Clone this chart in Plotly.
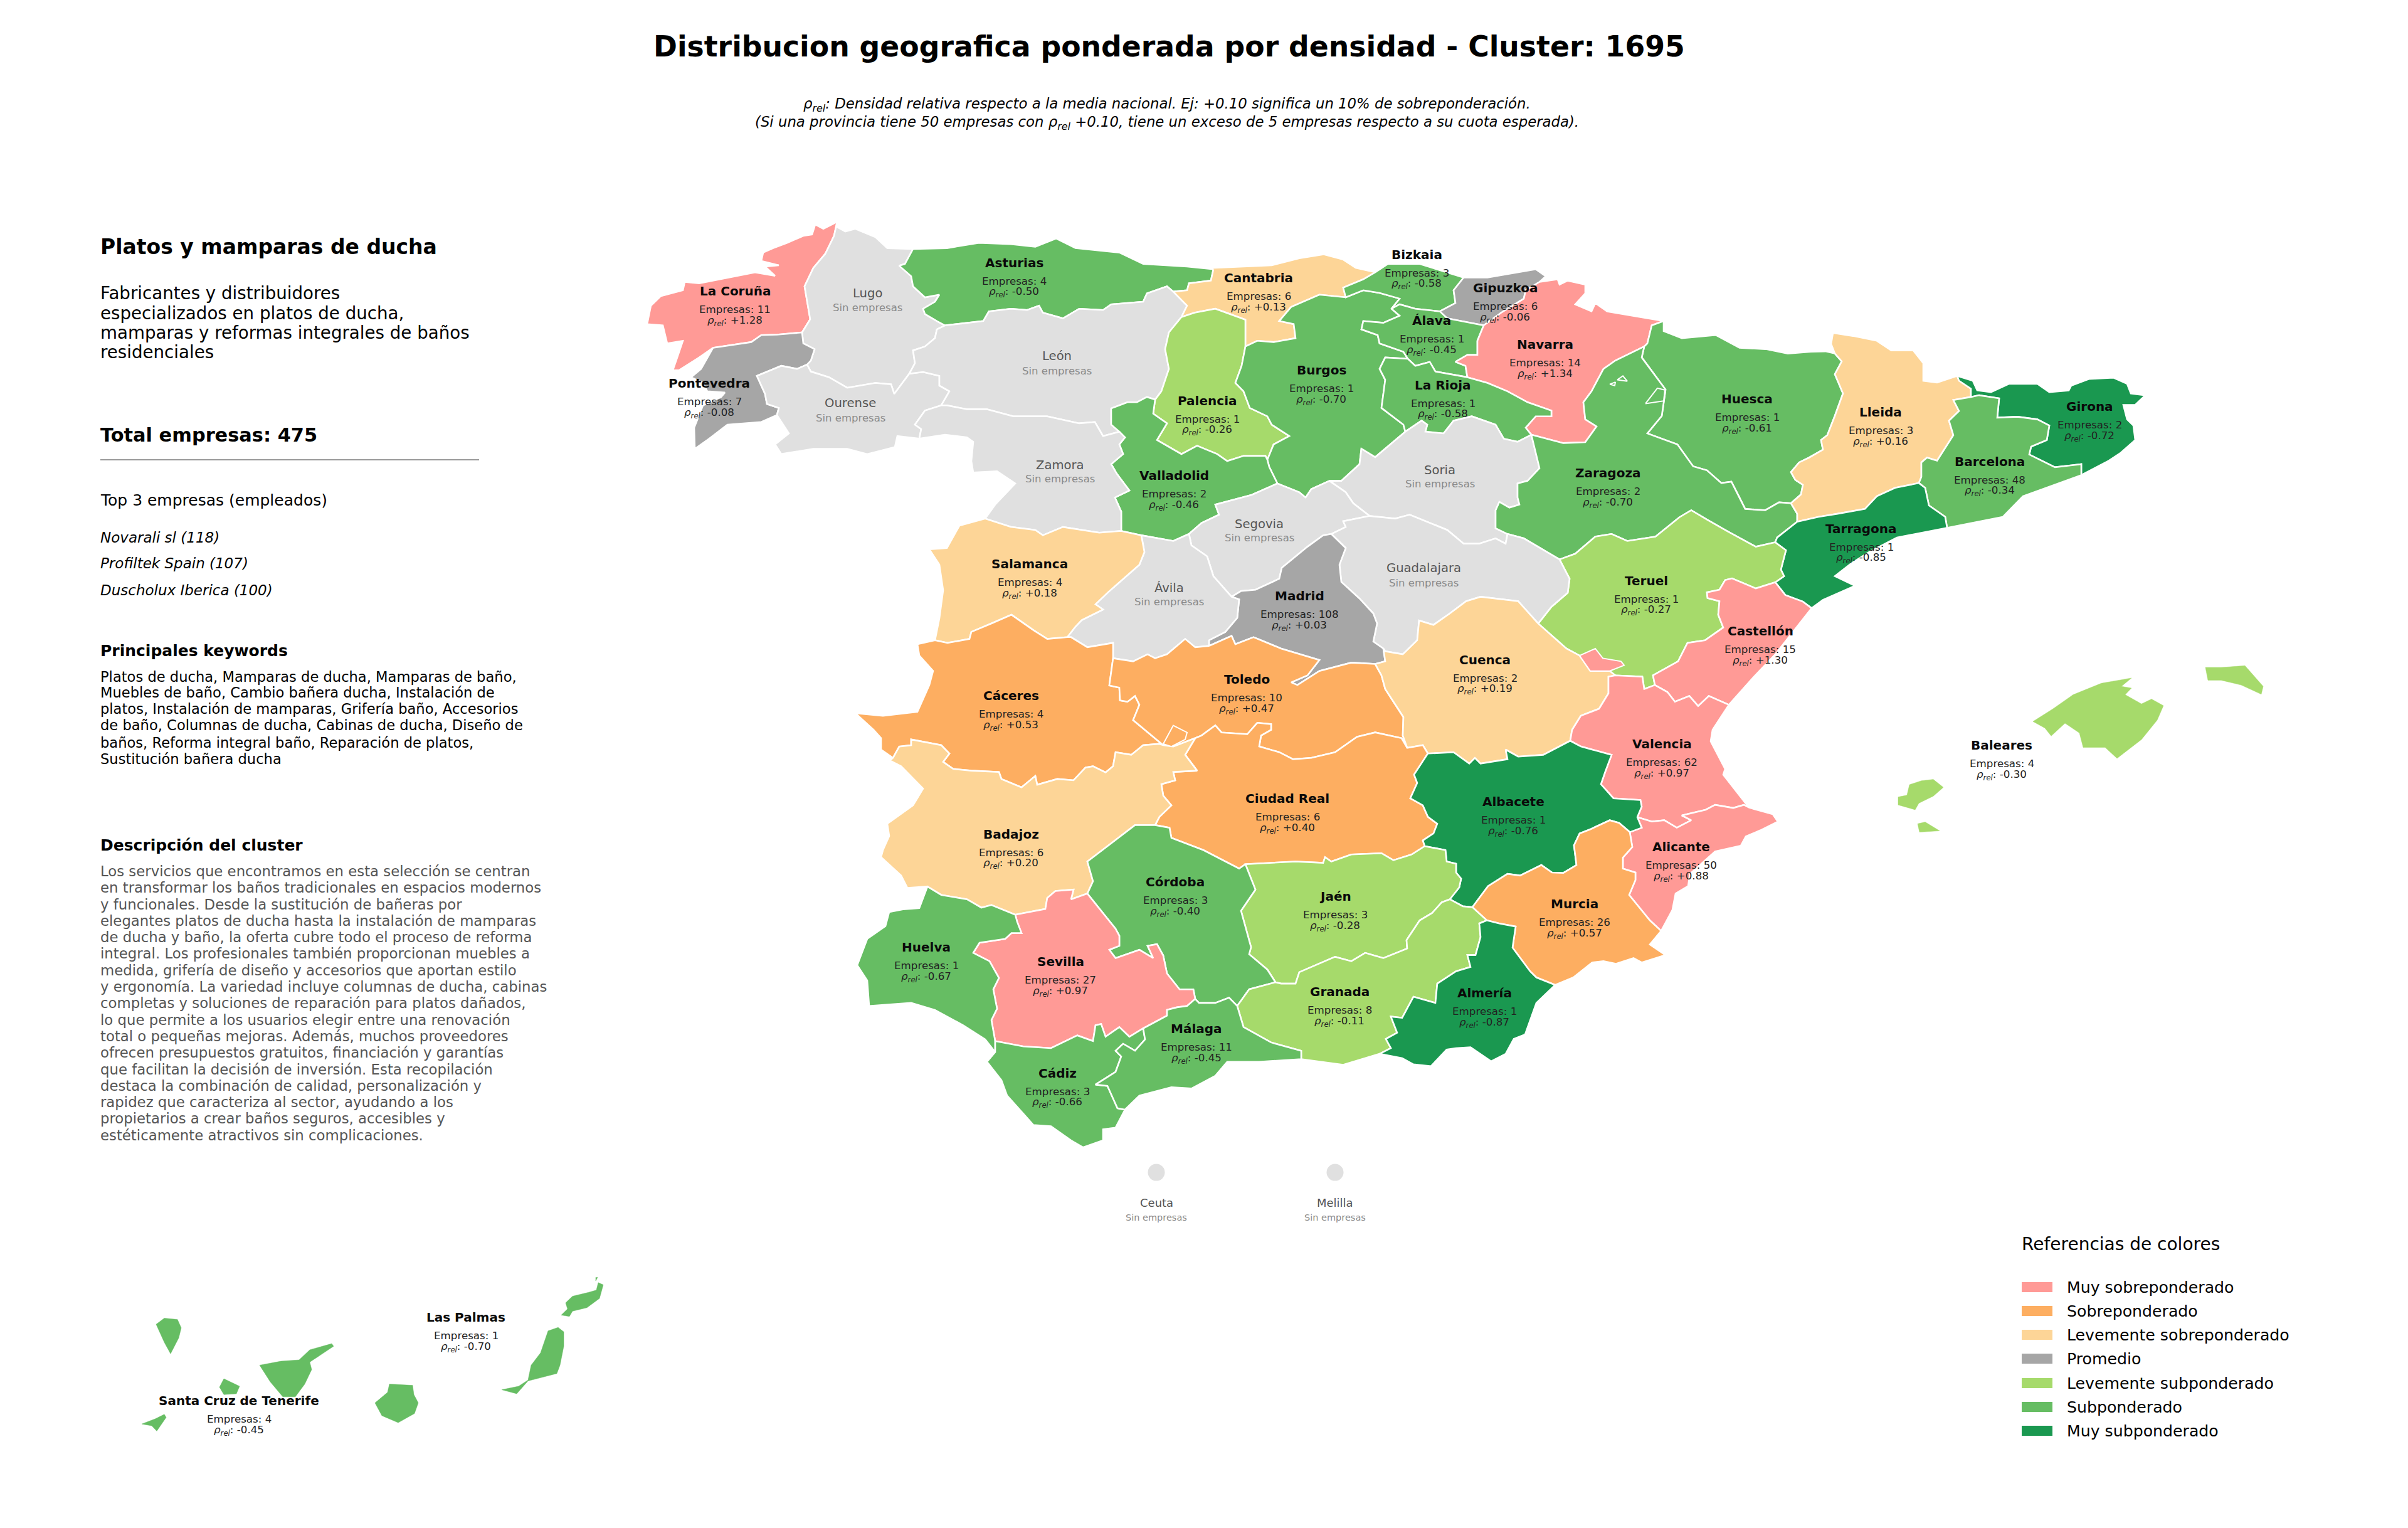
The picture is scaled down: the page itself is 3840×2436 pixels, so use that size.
import plotly.graph_objects as go

W, H = 3840, 2436
FONT = "DejaVu Sans"

CATEGORIES = ["Muy sobreponderado", "Sobreponderado", "Levemente sobreponderado", "Promedio",
              "Levemente subponderado", "Subponderado", "Muy subponderado"]
CAT_COLORS = ["#FF9A96", "#FDAE61", "#FDD597", "#A6A6A6", "#A6DA6B", "#66BD63", "#1A9850"]
NO_DATA = "#E0E0E0"
# 0..6 index CATEGORIES
MS, SO, LS, PR, LU, SU, MU = range(7)

# Border arcs of the provinces, shared between neighbours (map units)
ARCS = {
"cor_coast": [(1335,368),(1313,384),(1300,374),(1295,397),(1281,400),(1255,416),(1233,428),(1217,438),(1214,457),(1242,467),(1220,470),(1236,491),(1204,483),(1160,495),(1115,508),(1092,505),(1089,524),(1054,537),(1038,559),(1032,601),(1057,604),(1064,645),(1089,639),(1080,677),(1073,706),(1083,706),(1115,677),(1137,655)],
"cor_pon": [(1137,655),(1163,649),(1198,642),(1214,626),(1239,625),(1279,620)],
"cor_lug": [(1279,620),(1292,590),(1283,515),(1297,473),(1316,441),(1330,400),(1335,368)],
"lug_coast": [(1335,368),(1335,380),(1348,390),(1364,384),(1396,403),(1415,428),(1456,430)],
"lug_ast": [(1456,430),(1443,464),(1434,468),(1453,492),(1456,515),(1475,540),(1498,534),(1491,550),(1472,566),(1475,578),(1494,594),(1507,604)],
"lug_leo": [(1507,604),(1494,613),(1491,633),(1475,652),(1456,661),(1459,690),(1450,714)],
"lug_our": [(1450,714),(1426,760),(1421,738),(1396,735),(1351,746),(1322,722),(1293,709),(1287,693)],
"lug_pon": [(1287,693),(1293,684),(1299,658),(1281,645),(1279,620)],
"pon_our": [(1287,693),(1271,703),(1246,696),(1207,719),(1220,760),(1223,783),(1242,792),(1239,808)],
"pon_coast": [(1239,808),(1214,824),(1160,830),(1131,862),(1108,885),(1107,837),(1121,786),(1150,767),(1156,757),(1128,754),(1121,735),(1102,722),(1118,703),(1137,655)],
"our_south": [(1239,808),(1258,850),(1236,875),(1246,897),(1297,885),(1351,885),(1383,897),(1427,881),(1431,856),(1466,862)],
"our_zam": [(1466,862),(1469,840),(1459,830),(1475,798),(1501,786)],
"our_leo": [(1501,786),(1514,754),(1498,741),(1498,719),(1472,710),(1450,714)],
"ast_coast": [(1456,430),(1510,428),(1561,416),(1612,419),(1651,425),(1684,406),(1715,428),(1785,438),(1823,464),(1893,470),(1935,476)],
"ast_can": [(1935,476),(1931,502),(1896,508),(1893,524),(1871,527)],
"ast_leo": [(1871,527),(1861,515),(1829,531),(1823,550),(1772,556),(1759,569),(1721,566),(1695,588),(1663,575),(1657,559),(1638,569),(1612,566),(1577,572),(1568,594),(1507,604)],
"can_leo": [(1871,527),(1893,559),(1884,585)],
"leo_pal": [(1884,585),(1864,620),(1858,658),(1864,703),(1852,754),(1842,773)],
"leo_vld": [(1842,773),(1829,767),(1813,779),(1798,779),(1772,793),(1772,830),(1785,846)],
"leo_zam": [(1501,786),(1510,786),(1542,795),(1574,795),(1616,811),(1670,811),(1721,827),(1746,824),(1759,856),(1785,846)],
"zam_vld": [(1785,846),(1794,859),(1785,875),(1791,897),(1772,920),(1781,942),(1801,980),(1778,996),(1788,1028),(1788,1072)],
"zam_sal": [(1788,1072),(1753,1076),(1695,1063),(1663,1082),(1651,1070),(1612,1063),(1571,1044)],
"zam_west": [(1571,1044),(1587,1012),(1619,964),(1590,936),(1552,939),(1549,913),(1552,869),(1542,859),(1507,853),(1466,862)],
"vld_sal": [(1788,1072),(1820,1082)],
"vld_avi": [(1820,1082),(1871,1095),(1896,1079)],
"vld_seg": [(1896,1079),(1916,1054),(1944,1035),(1938,1012),(1996,990),(2037,964)],
"pal_vld": [(1842,773),(1839,805),(1861,827),(1845,865),(1884,897),(1909,878),(1941,897),(1957,913),(1983,901),(2018,901),(2021,910)],
"vld_bur": [(2021,910),(2024,926),(2037,964)],
"can_pal": [(1884,585),(1905,575),(1938,566),(1986,591),(1986,652)],
"pal_bur": [(1986,652),(1980,696),(1970,735),(1983,754),(1993,792),(2021,811),(2028,830),(2056,856),(2031,875),(2021,910)],
"can_bur": [(1986,652),(2005,639),(2031,642),(2066,633),(2063,601),(2040,594),(2059,562),(2104,534),(2146,540)],
"can_coast": [(1935,476),(1932,473),(2028,467),(2072,451),(2111,442),(2142,454),(2162,473),(2193,483)],
"can_biz": [(2193,483),(2174,499),(2142,518),(2146,540)],
"biz_coast": [(2193,483),(2213,464),(2264,464),(2334,495)],
"biz_gip": [(2334,495),(2318,524),(2321,553),(2296,572)],
"biz_bur": [(2146,540),(2174,524),(2200,530),(2232,543),(2219,566)],
"biz_ala": [(2219,566),(2232,556),(2257,566),(2296,572)],
"gip_ala": [(2296,572),(2308,588),(2366,604)],
"gip_coast": [(2334,495),(2372,495),(2449,476),(2465,492),(2455,505)],
"gip_nav": [(2455,505),(2433,524),(2430,543),(2394,575),(2366,604)],
"ala_nav": [(2366,604),(2356,639),(2356,671),(2340,671),(2321,687),(2337,696),(2340,722)],
"ala_rio": [(2340,722),(2289,709),(2280,687),(2257,696),(2245,680)],
"ala_bur": [(2245,680),(2238,664),(2200,645),(2197,626),(2171,613),(2174,594),(2206,598),(2232,582),(2219,566)],
"bur_rio": [(2245,680),(2209,677),(2200,703),(2209,728),(2203,792),(2238,830),(2241,846)],
"rio_sor": [(2241,846),(2267,821),(2276,830),(2273,846),(2302,850),(2318,821),(2347,811),(2385,830),(2398,862),(2420,869),(2442,853)],
"bur_sor": [(2241,846),(2193,904),(2171,885),(2168,920),(2139,958),(2120,958)],
"bur_seg": [(2120,958),(2091,977),(2082,996),(2072,984),(2037,964)],
"nav_fr": [(2455,505),(2484,499),(2487,511),(2500,502),(2528,511),(2528,531),(2512,556),(2538,572),(2544,553),(2563,572),(2653,594)],
"nav_hue": [(2653,594),(2634,604),(2627,645),(2622,652)],
"nav_zar": [(2622,652),(2576,684),(2557,703),(2538,754),(2525,779),(2528,818),(2546,834),(2528,870),(2493,872),(2442,853)],
"nav_rio": [(2442,853),(2433,837),(2449,811),(2474,811),(2474,798),(2436,779),(2404,754),(2372,735),(2340,722)],
"sor_zar": [(2442,853),(2449,894),(2455,929),(2436,958),(2420,964),(2420,996),(2423,1012),(2407,1019),(2391,1006),(2385,1025),(2385,1066),(2404,1079)],
"sor_gua": [(2404,1079),(2401,1101),(2385,1089),(2359,1101),(2334,1101),(2308,1070),(2248,1035),(2225,1044),(2184,1038)],
"sor_seg": [(2184,1038),(2158,1009),(2146,984),(2120,958)],
"seg_gua": [(2184,1038),(2142,1050),(2146,1063),(2123,1079)],
"seg_mad": [(2123,1079),(2110,1082),(2085,1108),(2044,1156),(2040,1181),(2002,1206),(1979,1209),(1964,1222)],
"seg_avi": [(1896,1079),(1900,1105),(1925,1130),(1935,1175),(1964,1222)],
"mad_gua": [(2123,1079),(2146,1111),(2136,1149),(2139,1188),(2168,1226),(2190,1260),(2196,1283),(2190,1324),(2206,1340)],
"gua_zar": [(2404,1079),(2430,1089),(2487,1137)],
"gua_ter": [(2487,1137),(2503,1181),(2500,1213),(2474,1245),(2453,1283)],
"gua_cue": [(2453,1283),(2421,1232),(2361,1222),(2338,1232),(2312,1260),(2286,1286),(2263,1276),(2260,1321),(2237,1353),(2209,1346),(2206,1340)],
"mad_cue": [(2206,1340),(2209,1369),(2193,1375)],
"mad_tol": [(1928,1334),(1964,1311),(1970,1330),(1999,1314),(2043,1340),(2104,1366),(2085,1401),(2059,1417),(2069,1423),(2104,1391),(2155,1372),(2193,1375)],
"avi_mad": [(1964,1222),(1976,1228),(1973,1270),(1954,1302),(1928,1321),(1928,1334)],
"avi_tol": [(1928,1334),(1906,1337),(1890,1318),(1861,1353),(1842,1362),(1830,1353),(1807,1369),(1775,1362)],
"avi_cac": [(1775,1362),(1775,1327),(1734,1337),(1708,1314),(1702,1314)],
"avi_sal": [(1820,1082),(1825,1120),(1817,1149),(1790,1183),(1766,1213),(1747,1239),(1759,1251),(1725,1275),(1715,1290),(1702,1314)],
"sal_cac": [(1702,1314),(1670,1318),(1648,1298),(1613,1263),(1581,1283),(1549,1302),(1546,1318),(1511,1327),(1491,1321)],
"sal_west": [(1571,1044),(1530,1060),(1510,1111),(1482,1114),(1498,1149),(1504,1207),(1498,1271),(1491,1321)],
"cac_west": [(1491,1321),(1463,1330),(1466,1356),(1488,1391),(1482,1423),(1463,1484),(1408,1493),(1364,1487),(1393,1525),(1405,1544),(1405,1570),(1424,1589)],
"cac_bad": [(1424,1589),(1434,1563),(1453,1560),(1453,1547),(1501,1560),(1514,1579),(1504,1598),(1520,1614),(1549,1618),(1593,1621),(1597,1637),(1629,1656),(1651,1630),(1654,1650),(1686,1637),(1712,1640),(1731,1611),(1743,1608),(1763,1622),(1775,1608),(1779,1576),(1804,1582),(1823,1560),(1849,1557),(1855,1560)],
"cac_tol": [(1855,1560),(1807,1503),(1817,1468),(1810,1448),(1798,1461),(1786,1458),(1785,1429),(1769,1424),(1775,1362)],
"tol_bad": [(1855,1560),(1871,1563),(1906,1544)],
"tol_cr": [(1906,1544),(1916,1538),(1938,1515),(1948,1531),(1989,1535),(2005,1509),(2027,1512),(2027,1525),(2011,1538),(2008,1563),(2040,1576),(2062,1592),(2091,1589),(2129,1576),(2164,1541),(2193,1531),(2235,1544),(2244,1566)],
"tol_cue": [(2193,1375),(2203,1401),(2209,1432),(2238,1496),(2237,1538),(2244,1566)],
"cue_cr": [(2244,1566),(2269,1560),(2277,1579)],
"cue_alb": [(2277,1579),(2318,1576),(2343,1602),(2352,1589),(2361,1602),(2404,1592),(2401,1570),(2421,1586),(2461,1582),(2504,1550)],
"cue_vlc": [(2576,1401),(2565,1404),(2565,1442),(2550,1477),(2521,1493),(2507,1525),(2504,1550)],
"ter_cue": [(2453,1283),(2498,1340),(2519,1356),(2536,1391),(2567,1391),(2576,1401)],
"ter_vlc": [(2639,1423),(2622,1432),(2619,1404),(2576,1401)],
"cas_ter": [(2831,1189),(2800,1203),(2762,1180),(2751,1184),(2742,1206),(2722,1212),(2723,1225),(2742,1232),(2740,1263),(2748,1292),(2719,1321),(2691,1327),(2676,1369),(2636,1401),(2639,1423)],
"cas_vlc": [(2639,1423),(2659,1439),(2671,1461),(2694,1448),(2708,1471),(2725,1448),(2757,1468)],
"cas_coast": [(2889,1248),(2831,1353),(2797,1404),(2757,1468)],
"tar_cas": [(2831,1189),(2847,1218),(2875,1233),(2889,1248)],
"tar_ter": [(2831,1098),(2848,1116),(2840,1160),(2845,1175),(2831,1189)],
"tar_coast": [(3105,1065),(3025,1087),(2981,1120),(2952,1146),(2926,1175),(2958,1197),(2907,1229),(2889,1248)],
"zar_ter": [(2487,1137),(2512,1124),(2544,1085),(2570,1079),(2595,1095),(2640,1085),(2678,1041),(2697,1025),(2723,1047),(2755,1073),(2800,1108),(2831,1098)],
"zar_tar": [(2831,1098),(2834,1087),(2866,1051)],
"zar_lle": [(2866,1051),(2866,1033),(2856,1009)],
"hue_zar": [(2856,1009),(2837,1007),(2815,1025),(2783,1022),(2773,993),(2761,960),(2745,963),(2722,934),(2700,925),(2675,875),(2627,850),(2650,810),(2656,750),(2625,690),(2618,677),(2622,652)],
"hue_fr": [(2653,594),(2653,617),(2682,633),(2736,626),(2774,655),(2816,658),(2851,668),(2888,664),(2911,663),(2926,668)],
"hue_lle": [(2926,668),(2937,686),(2926,715),(2939,759),(2926,810),(2914,854),(2904,865),(2907,887),(2885,905),(2869,916),(2856,938),(2863,956),(2875,967),(2872,989),(2856,1009)],
"lle_top": [(2926,668),(2920,646),(2923,621),(2955,628),(2993,639),(3016,661),(3051,661),(3067,690),(3067,730),(3089,734),(3121,719)],
"lle_gir": [(3121,719),(3124,730),(3143,748),(3143,767)],
"lle_bar": [(3143,767),(3115,774),(3124,799),(3108,821),(3115,854),(3099,890),(3089,912),(3073,905),(3064,916),(3064,949),(3060,963)],
"lle_tar": [(3060,963),(3022,974),(2993,993),(2974,1022),(2930,1033),(2900,1040),(2866,1051)],
"bar_tar": [(3060,963),(3070,974),(3076,1014),(3102,1040),(3105,1065)],
"bar_coast": [(3105,1065),(3194,1040),(3226,993),(3319,945)],
"bar_gir": [(3319,945),(3319,920),(3277,927),(3236,898),(3239,880),(3264,865),(3268,832),(3249,818),(3217,812),(3185,814),(3188,770),(3156,763),(3143,767)],
"gir_coast": [(3121,719),(3146,730),(3153,752),(3175,756),(3204,737),(3249,737),(3268,756),(3299,752),(3303,741),(3331,726),(3370,723),(3392,737),(3398,759),(3421,763),(3405,785),(3386,785),(3392,818),(3402,832),(3405,865),(3382,894),(3363,912),(3319,945)],
"alb_cr": [(2277,1579),(2255,1627),(2260,1646),(2249,1681),(2269,1697),(2277,1723),(2292,1739),(2286,1761),(2269,1777),(2272,1790)],
"cr_jae": [(2272,1790),(2251,1809),(2222,1822),(2203,1806),(2155,1809),(2123,1825),(2113,1815),(2110,1828),(2066,1825),(1986,1831)],
"cr_cor": [(1986,1831),(1976,1841),(1919,1799),(1868,1771),(1865,1748),(1842,1742)],
"bad_cr": [(1842,1742),(1849,1723),(1868,1697),(1855,1675),(1852,1649),(1874,1640),(1871,1621),(1909,1618),(1890,1582),(1906,1544)],
"bad_cor": [(1842,1742),(1810,1742),(1769,1787),(1734,1825),(1743,1870),(1734,1898)],
"bad_sev": [(1734,1898),(1708,1911),(1712,1889),(1683,1892),(1670,1908),(1667,1933),(1619,1946)],
"bad_hlv": [(1619,1946),(1581,1924),(1565,1930),(1542,1911),(1501,1901),(1479,1882)],
"bad_west": [(1479,1882),(1447,1885),(1437,1857),(1405,1815),(1408,1799),(1418,1767),(1415,1739),(1456,1697),(1472,1659),(1437,1608),(1419,1595),(1424,1589)],
"cor_jae": [(1986,1831),(2002,1889),(1979,1937),(1995,2020),(1992,2036),(2021,2071),(2034,2100)],
"cor_gra": [(2034,2100),(1992,2116),(1973,2154)],
"cor_mal": [(1973,2154),(1960,2135),(1938,2147),(1912,2147),(1906,2138)],
"cor_sev": [(1906,2138),(1903,2116),(1881,2116),(1861,2080),(1855,2039),(1845,2013),(1830,2017),(1839,2045),(1817,2026),(1779,2045),(1769,2026),(1785,2017),(1785,1994),(1779,1978),(1759,1943),(1734,1898)],
"sev_mal": [(1906,2138),(1893,2154),(1877,2157),(1861,2163),(1861,2176),(1823,2205)],
"sev_cad": [(1823,2205),(1801,2224),(1785,2202),(1763,2224),(1756,2195),(1747,2198),(1743,2234),(1718,2221),(1676,2250),(1632,2246),(1587,2234)],
"sev_hlv": [(1587,2234),(1581,2186),(1590,2160),(1584,2116),(1593,2090),(1578,2052),(1552,2033),(1562,2010),(1603,2001),(1613,1988),(1629,1988),(1622,1962),(1619,1946)],
"hlv_coast": [(1479,1882),(1466,1931),(1440,1934),(1418,1940),(1412,1972),(1383,2001),(1367,2061),(1383,2096),(1386,2154),(1453,2147),(1491,2163),(1536,2198),(1571,2230),(1587,2259)],
"hlv_cad": [(1587,2234),(1587,2259)],
"cad_coast": [(1587,2259),(1574,2281),(1597,2323),(1606,2358),(1648,2425),(1676,2428),(1708,2460),(1727,2476),(1759,2460),(1759,2435),(1779,2431),(1794,2390)],
"cad_mal": [(1794,2390),(1782,2387),(1766,2336),(1747,2333),(1779,2304),(1788,2269),(1779,2256),(1791,2240),(1810,2256),(1826,2230),(1823,2205)],
"mal_coast": [(1794,2390),(1817,2358),(1868,2339),(1900,2342),(1938,2313),(1957,2281),(2008,2281),(2075,2275)],
"mal_gra": [(2075,2275),(2075,2256),(2027,2237),(1983,2202),(1973,2154)],
"gra_coast": [(2075,2275),(2142,2288),(2200,2263)],
"gra_jae": [(2034,2100),(2043,2103),(2066,2103),(2072,2077),(2129,2042),(2155,2052),(2177,2033),(2206,2045),(2244,2023),(2243,2004),(2264,1959),(2284,1942),(2299,1918),(2312,1911)],
"alb_jae": [(2272,1790),(2305,1799),(2307,1825),(2322,1830),(2322,1850),(2330,1864),(2327,1884),(2312,1911)],
"alb_gra": [(2312,1911),(2333,1927),(2348,1929)],
"gra_mur": [(2348,1929),(2371,1959)],
"gra_alm": [(2371,1959),(2359,1966),(2361,1997),(2353,2038),(2340,2038),(2345,2065),(2322,2075),(2292,2103),(2289,2147),(2254,2133),(2236,2181),(2218,2178),(2228,2215),(2210,2229),(2218,2250),(2200,2263)],
"alm_coast": [(2200,2263),(2236,2273),(2254,2287),(2282,2291),(2307,2253),(2322,2250),(2345,2248),(2378,2280),(2401,2263),(2414,2229),(2432,2219),(2450,2147),(2480,2106)],
"alm_mur": [(2480,2106),(2450,2089),(2440,2075),(2412,2021),(2417,1973),(2391,1966),(2371,1959)],
"mur_coast": [(2480,2106),(2509,2089),(2539,2055),(2557,2052),(2577,2058),(2605,2045),(2618,2055),(2656,2038),(2631,2014),(2649,1983)],
"mur_ali": [(2649,1983),(2631,1959),(2598,1901),(2608,1867),(2608,1850),(2588,1841),(2588,1816),(2603,1792),(2599,1758)],
"alb_mur": [(2599,1758),(2582,1737),(2567,1731),(2537,1751),(2519,1761),(2510,1788),(2514,1833),(2493,1851),(2475,1850),(2458,1833),(2424,1857),(2404,1853),(2373,1881),(2348,1929)],
"alb_ali": [(2599,1758),(2618,1748),(2611,1724)],
"alb_vlc": [(2611,1724),(2618,1700),(2616,1685),(2573,1681),(2553,1649),(2560,1620),(2570,1582),(2521,1563),(2504,1550)],
"vlc_ali": [(2611,1724),(2634,1734),(2654,1731),(2674,1748),(2697,1731),(2682,1720),(2720,1707),(2735,1696),(2764,1703),(2781,1696),(2789,1702)],
"vlc_coast": [(2757,1468),(2731,1525),(2728,1551),(2751,1614),(2748,1627),(2789,1702)],
"ali_coast": [(2789,1702),(2827,1717),(2835,1734),(2807,1754),(2784,1768),(2776,1789),(2735,1802),(2695,1853),(2692,1881),(2672,1898),(2667,1935),(2649,1983)],
}

# Detached land (islands, exclaves), same map units
ADEMUZ = [(2519,1356),(2544,1340),(2556,1362),(2585,1369),(2590,1378),(2567,1391),(2536,1391)]
ZAR_ENCLAVE_A = [(2579,728),(2588,719),(2595,731)]
ZAR_ENCLAVE_B = [(2567,738),(2576,733),(2575,741)]
HUE_ENCLAVE = [(2624,782),(2643,747),(2655,751),(2653,776)]
TOL_ENCLAVE = [(1855,1557),(1871,1515),(1893,1531),(1890,1547),(1868,1563)]
MALLORCA = [(3242,1506),(3274,1477),(3306,1445),(3351,1419),(3379,1412),(3399,1407),(3383,1426),(3399,1430),(3389,1445),(3415,1466),(3431,1455),(3450,1470),(3440,1503),(3415,1547),(3376,1590),(3357,1565),(3322,1565),(3316,1532),(3293,1510),(3271,1539),(3261,1521)]
MENORCA = [(3517,1383),(3542,1383),(3580,1379),(3609,1426),(3606,1444),(3574,1423),(3542,1412),(3521,1412)]
IBIZA = [(3099,1656),(3083,1638),(3064,1641),(3045,1650),(3041,1674),(3027,1678),(3027,1696),(3054,1707),(3060,1692),(3083,1676)]
FORMENTERA = [(3058,1739),(3061,1758),(3093,1755),(3070,1735)]
LA_PALMA = [(249,2879),(262,2865),(283,2868),(289,2887),(285,2910),(272,2946),(262,2920)]
TENERIFE = [(414,2972),(448,2963),(477,2960),(494,2937),(529,2923),(532,2929),(512,2948),(494,2965),(497,2982),(486,3015),(471,3044),(451,3044),(431,3010)]
GOMERA = [(357,3003),(382,3020),(377,3037),(357,3039),(350,3022)]
HIERRO = [(262,3084),(265,3091),(250,3122),(242,3110),(226,3106),(248,3094)]
GRAN_CANARIA = [(621,3015),(658,3018),(660,3039),(667,3058),(661,3082),(635,3103),(609,3087),(598,3058),(618,3034)]
FUERTEVENTURA = [(890,2886),(899,2896),(899,2929),(893,2972),(888,2991),(842,3008),(824,3037),(800,3028),(827,3020),(842,3006),(847,2972),(862,2944),(874,2894)]
LANZAROTE = [(954,2784),(962,2789),(956,2820),(936,2841),(913,2849),(908,2861),(895,2858),(905,2844),(902,2830),(913,2815),(939,2806),(951,2801)]
GRACIOSA = [(950,2772),(953,2772),(950,2780)]

PROVINCE_NAMES = ["La Coruña","Lugo","Pontevedra","Ourense","Asturias","León","Cantabria","Palencia","Burgos","Valladolid","Zamora","Bizkaia","Gipuzkoa","Álava","Navarra","La Rioja","Soria","Segovia","Huesca","Zaragoza","Lleida","Girona","Barcelona","Tarragona","Teruel","Castellón","Guadalajara","Madrid","Ávila","Salamanca","Cáceres","Toledo","Cuenca","Ciudad Real","Badajoz","Valencia","Alicante","Albacete","Murcia","Jaén","Córdoba","Granada","Almería","Sevilla","Huelva","Cádiz","Málaga","Baleares","Las Palmas","Santa Cruz de Tenerife","Ceuta","Melilla"]
EMPRESAS = [11,None,7,None,4,None,6,1,1,2,None,3,6,1,14,1,None,None,1,2,3,2,48,1,1,15,None,108,None,4,4,10,2,6,6,62,50,1,26,3,3,8,1,27,1,3,11,4,1,4,None,None]
RHO = ["+1.28",None,"-0.08",None,"-0.50",None,"+0.13","-0.26","-0.70","-0.46",None,"-0.58","-0.06","-0.45","+1.34","-0.58",None,None,"-0.61","-0.70","+0.16","-0.72","-0.34","-0.85","-0.27","+1.30",None,"+0.03",None,"+0.18","+0.53","+0.47","+0.19","+0.40","+0.20","+0.97","+0.88","-0.76","+0.57","-0.28","-0.40","-0.11","-0.87","+0.97","-0.67","-0.66","-0.45","-0.30","-0.70","-0.45",None,None]
CATEGORY = [MS,None,PR,None,SU,None,LS,LU,SU,SU,None,SU,PR,SU,MS,SU,None,None,SU,SU,LS,MU,SU,MU,LU,MS,None,PR,None,LS,SO,SO,LS,SO,LS,MS,MS,MU,SO,LU,SU,LU,MU,MS,SU,SU,SU,LU,SU,SU,None,None]
LABEL_X = [1172,1383,1131,1356,1617,1685,2007,1925,2107,1872,1690,2259,2400,2283,2464,2301,2296,2008,2786,2564,2999,3332,3173,2968,2625,2807,2270,2072,1864,1642,1612,1988,2368,2053,1612,2650,2681,2413,2511,2129,1874,2136,2367,1691,1477,1686,1908,3192,743,381,1844,2129]
LABEL_Y = [464,467,611,643,419,568,443,639,590,758,741,406,459,511,549,614,749,835,636,754,657,648,736,843,926,1006,906,950,937,899,1109,1083,1052,1273,1330,1186,1350,1278,1441,1429,1406,1581,1583,1533,1510,1711,1640,1188,2100,2233,1917,1917]

PROVINCE_ARCS = {
"La Coruña": ["cor_coast","cor_pon","cor_lug"],
"Lugo": ["cor_lug","lug_coast","lug_ast","lug_leo","lug_our","lug_pon"],
"Pontevedra": ["cor_pon","lug_pon","pon_our","pon_coast"],
"Ourense": ["pon_our","lug_our","our_leo","our_zam","our_south"],
"Asturias": ["ast_coast","ast_can","ast_leo","lug_ast"],
"León": ["ast_leo","can_leo","leo_pal","leo_vld","leo_zam","our_leo","lug_leo"],
"Cantabria": ["can_coast","can_biz","can_bur","can_pal","can_leo","ast_can"],
"Palencia": ["can_pal","pal_bur","pal_vld","leo_pal"],
"Burgos": ["can_bur","pal_bur","vld_bur","bur_seg","bur_sor","bur_rio","ala_bur","biz_bur"],
"Valladolid": ["leo_vld","pal_vld","vld_bur","vld_seg","vld_avi","vld_sal","zam_vld"],
"Zamora": ["leo_zam","zam_vld","zam_sal","zam_west","our_zam"],
"Bizkaia": ["can_biz","biz_coast","biz_gip","biz_ala","biz_bur"],
"Gipuzkoa": ["biz_gip","gip_coast","gip_nav","gip_ala"],
"Álava": ["biz_ala","gip_ala","ala_nav","ala_rio","ala_bur"],
"Navarra": ["gip_nav","nav_fr","nav_hue","nav_zar","nav_rio","ala_nav"],
"La Rioja": ["ala_rio","nav_rio","rio_sor","bur_rio"],
"Soria": ["rio_sor","sor_zar","sor_gua","sor_seg","bur_sor"],
"Segovia": ["bur_seg","sor_seg","seg_gua","seg_mad","seg_avi","vld_seg"],
"Huesca": ["nav_hue","hue_fr","hue_lle","hue_zar"],
"Zaragoza": ["nav_zar","hue_zar","zar_lle","zar_tar","zar_ter","gua_zar","sor_zar"],
"Lleida": ["hue_lle","lle_top","lle_gir","lle_bar","lle_tar","zar_lle"],
"Girona": ["gir_coast","bar_gir","lle_gir"],
"Barcelona": ["lle_bar","bar_gir","bar_coast","bar_tar"],
"Tarragona": ["lle_tar","bar_tar","tar_coast","tar_cas","tar_ter","zar_tar"],
"Teruel": ["zar_ter","tar_ter","cas_ter","ter_vlc","ter_cue","gua_ter"],
"Castellón": ["tar_cas","cas_coast","cas_vlc","cas_ter"],
"Guadalajara": ["gua_zar","gua_ter","gua_cue","mad_gua","seg_gua","sor_gua"],
"Madrid": ["seg_mad","mad_gua","mad_cue","mad_tol","avi_mad"],
"Ávila": ["seg_avi","avi_mad","avi_tol","avi_cac","avi_sal","vld_avi"],
"Salamanca": ["zam_sal","vld_sal","avi_sal","sal_cac","sal_west"],
"Cáceres": ["sal_cac","avi_cac","cac_tol","cac_bad","cac_west"],
"Toledo": ["avi_tol","mad_tol","tol_cue","tol_cr","tol_bad","cac_tol"],
"Cuenca": ["gua_cue","mad_cue","tol_cue","cue_cr","cue_alb","cue_vlc","ter_cue"],
"Ciudad Real": ["tol_cr","cue_cr","alb_cr","cr_jae","cr_cor","bad_cr"],
"Badajoz": ["cac_bad","tol_bad","bad_cr","bad_cor","bad_sev","bad_hlv","bad_west"],
"Valencia": ["cas_vlc","ter_vlc","cue_vlc","alb_vlc","vlc_ali","vlc_coast"],
"Alicante": ["vlc_ali","ali_coast","mur_ali","alb_ali"],
"Albacete": ["cue_alb","alb_cr","alb_jae","alb_gra","alb_mur","alb_ali","alb_vlc"],
"Murcia": ["alb_mur","mur_ali","mur_coast","alm_mur","gra_mur"],
"Jaén": ["cr_jae","alb_jae","gra_jae","cor_jae"],
"Córdoba": ["cr_cor","cor_jae","cor_gra","cor_mal","cor_sev","bad_cor"],
"Granada": ["cor_gra","gra_jae","alb_gra","gra_mur","gra_alm","gra_coast","mal_gra"],
"Almería": ["gra_alm","alm_mur","alm_coast"],
"Sevilla": ["bad_sev","cor_sev","sev_mal","sev_cad","sev_hlv"],
"Huelva": ["bad_hlv","sev_hlv","hlv_cad","hlv_coast"],
"Cádiz": ["sev_cad","hlv_cad","cad_coast","cad_mal"],
"Málaga": ["sev_mal","cad_mal","mal_coast","mal_gra","cor_mal"],
}
EXTRA_LAND = {
"Valencia": [ADEMUZ],
"Zaragoza": [ZAR_ENCLAVE_A, ZAR_ENCLAVE_B],
"Huesca": [HUE_ENCLAVE],
"Toledo": [TOL_ENCLAVE],
"Baleares": [MALLORCA, MENORCA, IBIZA, FORMENTERA],
"Las Palmas": [GRAN_CANARIA, FUERTEVENTURA, LANZAROTE, GRACIOSA],
"Santa Cruz de Tenerife": [LA_PALMA, TENERIFE, GOMERA, HIERRO],
}
CEUTA_MELILLA = {"Ceuta": (1844, 2533), "Melilla": (2129, 2533)}

TITLE = "Distribucion geografica ponderada por densidad - Cluster: 1695"
SUBTITLE = ["<i>ρ<sub>rel</sub>: Densidad relativa respecto a la media nacional. Ej: +0.10 significa un 10% de sobreponderación.</i>",
            "<i>(Si una provincia tiene 50 empresas con ρ<sub>rel</sub> +0.10, tiene un exceso de 5 empresas respecto a su cuota esperada).</i>"]
DESCR_LINES = ["Fabricantes y distribuidores","especializados en platos de ducha,","mamparas y reformas integrales de baños","residenciales"]
TOP3 = ["Novarali sl (118)","Profiltek Spain (107)","Duscholux Iberica (100)"]
KEYWORDS = ["Platos de ducha, Mamparas de ducha, Mamparas de baño,","Muebles de baño, Cambio bañera ducha, Instalación de","platos, Instalación de mamparas, Grifería baño, Accesorios","de baño, Columnas de ducha, Cabinas de ducha, Diseño de","baños, Reforma integral baño, Reparación de platos,","Sustitución bañera ducha"]
CLUSTER_TEXT = ["Los servicios que encontramos en esta selección se centran","en transformar los baños tradicionales en espacios modernos","y funcionales. Desde la sustitución de bañeras por","elegantes platos de ducha hasta la instalación de mamparas","de ducha y baño, la oferta cubre todo el proceso de reforma","integral. Los profesionales también proporcionan muebles a","medida, grifería de diseño y accesorios que aportan estilo","y ergonomía. La variedad incluye columnas de ducha, cabinas","completas y soluciones de reparación para platos dañados,","lo que permite a los usuarios elegir entre una renovación","total o pequeñas mejoras. Además, muchos proveedores","ofrecen presupuestos gratuitos, financiación y garantías","que facilitan la decisión de inversión. Esta recopilación","destaca la combinación de calidad, personalización y","rapidez que caracteriza al sector, ayudando a los","propietarios a crear baños seguros, accesibles y","estéticamente atractivos sin complicaciones."]


def chain(names):
    """Join border arcs into one closed ring, flipping each as needed."""
    rest = [list(ARCS[n]) for n in names]
    ring = rest.pop(0)
    while rest:
        end = ring[-1]
        best, flip, dist = None, False, 1e12
        for i, a in enumerate(rest):
            for fl, p in ((False, a[0]), (True, a[-1])):
                d = (p[0]-end[0])**2 + (p[1]-end[1])**2
                if d < dist:
                    best, flip, dist = i, fl, d
        a = rest.pop(best)
        if flip:
            a = a[::-1]
        ring += a[1:]
    return ring


def flatten(rings):
    xs, ys = [], []
    for r in rings:
        r = list(r) + [r[0]]
        xs += [p[0] for p in r] + [None]
        ys += [p[1] for p in r] + [None]
    return xs, ys


fig = go.Figure()
for i, name in enumerate(PROVINCE_NAMES):
    if name not in PROVINCE_ARCS:
        continue
    color = NO_DATA if CATEGORY[i] is None else CAT_COLORS[CATEGORY[i]]
    xs, ys = flatten([chain(PROVINCE_ARCS[name])])
    fig.add_trace(go.Scatter(x=xs, y=ys, mode="lines", fill="toself", fillcolor=color,
                             line=dict(color="white", width=2.6), hoverinfo="skip", showlegend=False))
# detached land is drawn after every province, so it stays on top
MAINLAND_PATCHES = ("Valencia", "Zaragoza", "Huesca", "Toledo")
for name, rings in EXTRA_LAND.items():
    color = CAT_COLORS[CATEGORY[PROVINCE_NAMES.index(name)]]
    xs, ys = flatten(rings)
    patch = name in MAINLAND_PATCHES
    fig.add_trace(go.Scatter(x=xs, y=ys, mode="lines", fill="toself", fillcolor=color,
                             line=dict(color="white" if patch else color, width=2 if patch else 0.5),
                             hoverinfo="skip", showlegend=False))
fig.add_trace(go.Scatter(x=[p[0] for p in CEUTA_MELILLA.values()], y=[p[1] for p in CEUTA_MELILLA.values()],
                         mode="markers", marker=dict(size=27, color=NO_DATA), hoverinfo="skip", showlegend=False))

ann = []


def text(x, y, s, size, color="black", bold=False, italic=False, anchor="left"):
    if bold:
        s = f"<b>{s}</b>"
    if italic:
        s = f"<i>{s}</i>"
    ann.append(dict(x=x/W, y=1-y/H, xref="paper", yref="paper", text=s, showarrow=False,
                    xanchor=anchor, yanchor="middle", align=anchor,
                    font=dict(family=FONT, size=size, color=color)))


text(1864, 74, TITLE, 45.7, bold=True, anchor="center")
text(1861, 167, SUBTITLE[0], 22.8, anchor="center")
text(1861, 196, SUBTITLE[1], 22.8, anchor="center")

for i, name in enumerate(PROVINCE_NAMES):
    x, y = LABEL_X[i], LABEL_Y[i]
    if name in CEUTA_MELILLA:
        text(x, y, name, 18, "#555555", anchor="center")
        text(x, y+24, "Sin empresas", 14.5, "#8a8a8a", anchor="center")
    elif EMPRESAS[i] is None:
        text(x, y, name, 19.6, "#555555", anchor="center")
        text(x, y+23, "Sin empresas", 16.5, "#8a8a8a", anchor="center")
    else:
        text(x, y, name, 20, "#0a0a0a", bold=True, anchor="center")
        text(x, y+29, f"Empresas: {EMPRESAS[i]}", 16.7, "#222222", anchor="center")
        text(x, y+47, f"<i>ρ<sub>rel</sub></i>: {RHO[i]}", 16.7, "#222222", anchor="center")

LEFT = 158
text(LEFT, 394, "Platos y mamparas de ducha", 33, bold=True)
for y, s in zip([468, 499, 530, 561], DESCR_LINES):
    text(LEFT, y, s, 27.7)
text(LEFT, 693, "Total empresas: 475", 30.4, bold=True)
text(LEFT, 797, "Top 3 empresas (empleados)", 25)
for y, s in zip([857, 898, 941], TOP3):
    text(LEFT, y, s, 23, italic=True)
text(LEFT, 1037, "Principales keywords", 25, bold=True)
for y, s in zip([1079, 1104, 1130, 1156, 1184, 1210], KEYWORDS):
    text(LEFT, y, s, 22.6)
text(LEFT, 1347, "Descripción del cluster", 25, bold=True)
for k, s in enumerate(CLUSTER_TEXT):
    text(LEFT, 1389 + k*26.3, s, 22.8, "#555555")

text(3222, 1983, "Referencias de colores", 28)
LEG_Y = [2052, 2090, 2128, 2166, 2205, 2243, 2281]
shapes = [dict(type="line", xref="paper", yref="paper", x0=160/W, x1=764/W, y0=1-733/H, y1=1-733/H,
               line=dict(color="#999999", width=2))]
for y, c, s in zip(LEG_Y, CAT_COLORS, CATEGORIES):
    shapes.append(dict(type="rect", xref="paper", yref="paper", x0=3224/W, x1=3273/W,
                       y0=1-(y+8)/H, y1=1-(y-8)/H, fillcolor=c, line=dict(width=0)))
    text(3294, y, s, 25.2)

fig.update_layout(width=W, height=H, margin=dict(l=0, r=0, t=0, b=0), paper_bgcolor="white", plot_bgcolor="white",
                  showlegend=False, annotations=ann, shapes=shapes,
                  xaxis=dict(range=[0, W], visible=False, fixedrange=True),
                  yaxis=dict(range=[3342.86, -137.14], visible=False, fixedrange=True))
fig.write_html("out.html", config={"displayModeBar": False}, post_script="document.body.style.margin='0';")
